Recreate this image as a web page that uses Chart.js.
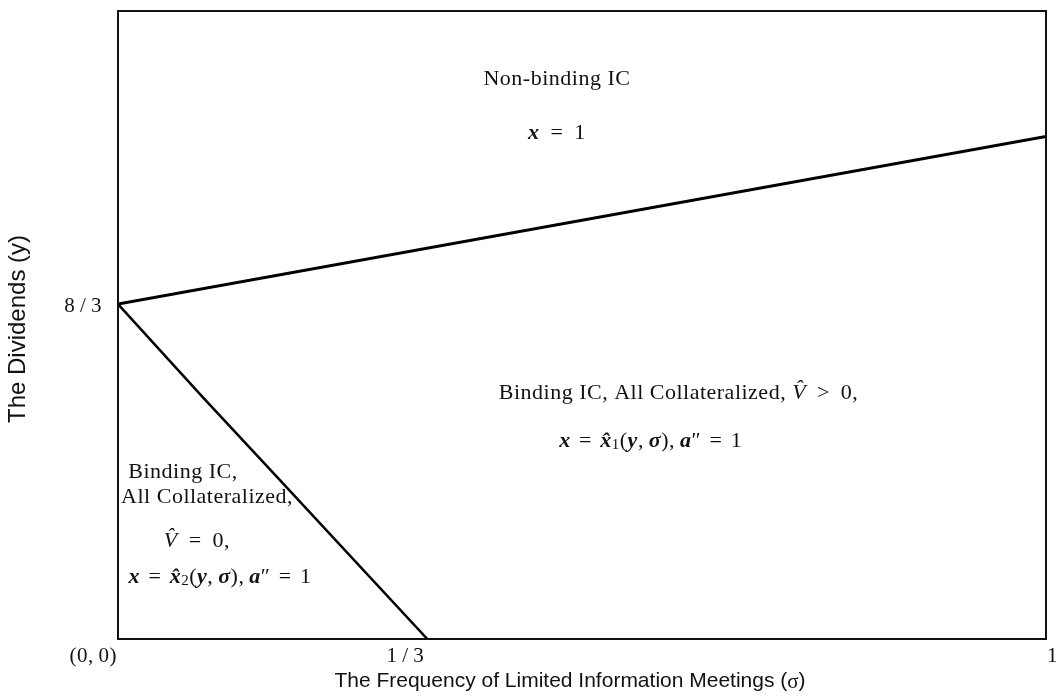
<!DOCTYPE html>
<html>
<head>
<meta charset="utf-8">
<script src="https://cdn.jsdelivr.net/npm/chart.js@4"></script>
<style>
  html, body { margin: 0; background: #fff; }
  #wrap { width: 1056px; height: 696px; }
</style>
</head>
<body>
<div id="wrap"><canvas id="c"></canvas></div>
<script>
// Regime boundaries in (sigma, y) space
const upperSigma = [0, 1];
const upperDividend = [8 / 3, 4];
const lowerSigma = [0, 0.092, 0.165, 1 / 3];
const lowerDividend = [8 / 3, 1.92, 1.34, 0];

// Axis ticks
const xTickValues = [0, 1 / 3, 1];
const xTickLabels = ['(0,\u20090)', '1\u2009/\u20093', '1'];
const yTickValues = [8 / 3];
const yTickLabels = ['8\u2009/\u20093'];

const xTitle = 'The Frequency of Limited Information Meetings (';
const yTitle = 'The Dividends (y)';

const SERIF = '"Liberation Serif", "DejaVu Serif", serif';
const SANS = '"Liberation Sans", Arial, sans-serif';
const FS = 22;
const rm = `${FS}px ${SERIF}`;
const it = `italic ${FS}px ${SERIF}`;
const bi = `italic bold ${FS}px ${SERIF}`;
const sm = `${Math.round(FS * 0.7)}px ${SERIF}`;
const SP = '\u2009';   // thin space used in formulas
const HS = '\u200A';   // hair space around relations

const eqRuns = sub => [
  { t: 'x', f: bi }, { t: HS + ' = ' + HS, f: rm }, { t: 'x\u0302', f: bi },
  { t: sub, f: sm, dy: 4 }, { t: '(', f: rm }, { t: 'y', f: bi }, { t: ',' + SP, f: rm },
  { t: '\u03C3', f: bi }, { t: '),' + SP, f: rm }, { t: 'a', f: bi },
  { t: '\u2033', f: rm }, { t: HS + ' = ' + HS + '1', f: rm }
];

// Region annotations: anchor in data coordinates plus text runs
const regionNotes = [
  { s: 0.473, y: 4.46, runs: [{ t: 'Non-binding IC', f: rm }] },
  { s: 0.473, y: 4.03, runs: [{ t: 'x', f: bi }, { t: SP + ' = ' + SP + '1', f: rm }] },
  { s: 0.604, y: 1.96, runs: [
      { t: 'Binding IC, All Collateralized, ', f: rm },
      { t: 'V\u0302', f: it }, { t: SP + ' > ' + SP + '0,', f: rm }] },
  { s: 0.574, y: 1.575, runs: eqRuns('1') },
  { s: 0.070, y: 1.33, runs: [{ t: 'Binding IC,', f: rm }] },
  { s: 0.096, y: 1.13, runs: [{ t: 'All Collateralized,', f: rm }] },
  { s: 0.085, y: 0.78, runs: [{ t: 'V\u0302', f: it }, { t: SP + ' = ' + SP + '0,', f: rm }] },
  { s: 0.110, y: 0.49, runs: eqRuns('2') }
];

function drawRuns(ctx, runs, cx, cy) {
  let total = 0;
  const widths = runs.map(r => { ctx.font = r.f; const w = ctx.measureText(r.t).width; total += w; return w; });
  let x = cx - total / 2;
  ctx.textAlign = 'left';
  ctx.textBaseline = 'middle';
  runs.forEach((r, i) => {
    ctx.font = r.f;
    ctx.fillText(r.t, x, cy + (r.dy || 0));
    x += widths[i];
  });
}

const overlay = {
  id: 'overlay',
  afterDraw(chart) {
    const { ctx, chartArea: a, scales } = chart;
    const xs = scales.x, ys = scales.y;
    ctx.save();
    ctx.fillStyle = '#111';
    ctx.strokeStyle = '#111';
    ctx.letterSpacing = '0.5px';

    // Plot frame
    ctx.lineWidth = 2;
    ctx.strokeRect(a.left, a.top, a.right - a.left, a.bottom - a.top);

    // x tick labels
    const xAlign = ['right', 'right', 'left'];
    ctx.font = `21px ${SERIF}`;
    ctx.textBaseline = 'middle';
    xTickValues.forEach((v, i) => {
      ctx.textAlign = xAlign[i];
      const px = xs.getPixelForValue(v);
      const off = xAlign[i] === 'right' ? (i === 0 ? -1 : -3) : 1;
      ctx.fillText(xTickLabels[i], px + off, a.bottom + 17);
    });
    // y tick labels
    ctx.textAlign = 'right';
    yTickValues.forEach((v, i) => {
      ctx.fillText(yTickLabels[i], a.left - 16, ys.getPixelForValue(v) + 2);
    });

    // Axis titles
    ctx.letterSpacing = '0px';
    ctx.font = `21px ${SANS}`;
    ctx.textBaseline = 'middle';
    const tw = ctx.measureText(xTitle).width;
    ctx.font = `21px ${SERIF}`;
    const sw = ctx.measureText('\u03C3').width;
    ctx.font = `21px ${SANS}`;
    const cw = ctx.measureText(')').width;
    let tx = (a.left + a.right) / 2 - 12 - (tw + sw + cw) / 2;
    ctx.textAlign = 'left';
    ctx.fillText(xTitle, tx, 681);
    ctx.font = `21px ${SERIF}`;
    ctx.fillText('\u03C3', tx + tw, 682);
    ctx.font = `21px ${SANS}`;
    ctx.fillText(')', tx + tw + sw, 681);

    ctx.save();
    ctx.font = `24px ${SANS}`;
    ctx.translate(18, 329);
    ctx.rotate(-Math.PI / 2);
    ctx.textAlign = 'center';
    ctx.fillText(yTitle, 0, 0);
    ctx.restore();

    // Region annotations
    ctx.letterSpacing = '0.5px';
    regionNotes.forEach(n => drawRuns(ctx, n.runs, xs.getPixelForValue(n.s), ys.getPixelForValue(n.y)));
    ctx.restore();
  }
};

const toPoints = (xsArr, ysArr) => xsArr.map((x, i) => ({ x, y: ysArr[i] }));

new Chart(document.getElementById('c'), {
  type: 'scatter',
  data: {
    datasets: [
      { data: toPoints(upperSigma, upperDividend), showLine: true, borderColor: '#000',
        borderWidth: 3, pointRadius: 0, tension: 0 },
      { data: toPoints(lowerSigma, lowerDividend), showLine: true, borderColor: '#000',
        borderWidth: 2.5, pointRadius: 0, tension: 0 }
    ]
  },
  options: {
    responsive: true,
    maintainAspectRatio: false,
    animation: false,
    layout: { padding: { left: 118, top: 11, right: 10, bottom: 57 } },
    plugins: { legend: { display: false }, tooltip: { enabled: false } },
    scales: {
      x: { type: 'linear', min: 0, max: 1, display: false },
      y: { type: 'linear', min: 0, max: 5, display: false }
    }
  },
  plugins: [overlay]
});
</script>
</body>
</html>
